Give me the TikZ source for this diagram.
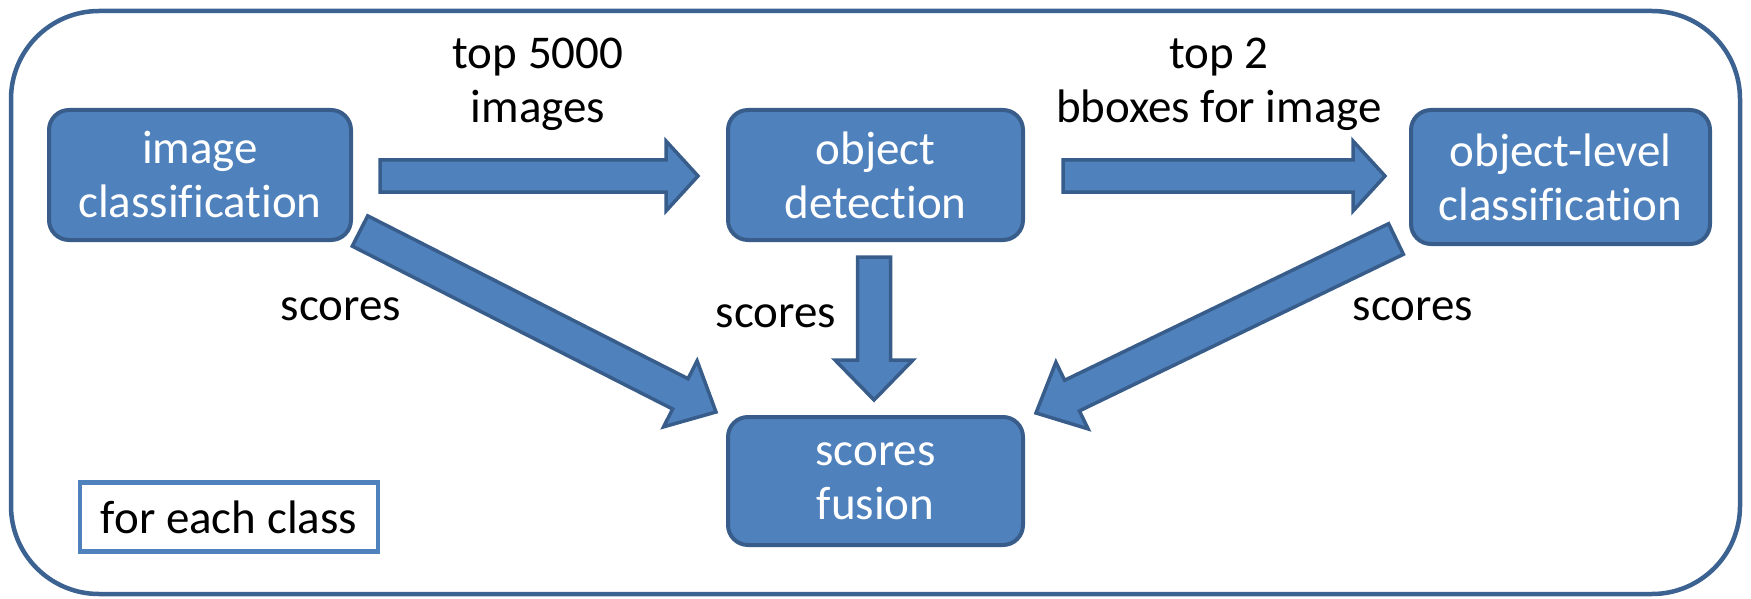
\documentclass[tikz,border=0pt]{standalone}
\usepackage{fontspec}
\setmainfont[Ligatures=NoCommon]{Carlito}
\usetikzlibrary{calc}
\definecolor{boxfill}{HTML}{4F81BD}
\definecolor{boxline}{HTML}{385D8A}
\definecolor{frameline}{HTML}{3C6292}
\newcommand\fatarrow[5]{% tail, tip, half shaft, half head, head length
  \coordinate (hb) at ($(#2)!#5!(#1)$);
  \draw[barrow] ($(#1)!#3!90:(#2)$) -- ($(hb)!#3!90:(#2)$) -- ($(hb)!#4!90:(#2)$) -- (#2)
    -- ($(hb)!#4!-90:(#2)$) -- ($(hb)!#3!-90:(#2)$) -- ($(#1)!#3!-90:(#2)$) -- cycle;
}
\begin{document}
\begin{tikzpicture}[x=1pt,y=-1pt,
  blk/.style={draw=boxline, line width=4pt, fill=boxfill, rounded corners=20pt, text=white,
    align=center, font=\fontsize{47}{54}\selectfont, inner sep=0pt},
  lbl/.style={align=center, font=\fontsize{47}{54}\selectfont, text=black, inner sep=0pt},
  barrow/.style={draw=boxline, line width=3.5pt, fill=boxfill, line join=miter}]
\useasboundingbox (0,0) rectangle (1751,599);
\draw[frameline, line width=4.5pt, rounded corners=88pt] (11,11) rectangle (1740,594);

\node[blk, minimum width=302pt, minimum height=130pt] (ic) at (200,175) {image\\classification};
\node[blk, minimum width=295pt, minimum height=130pt] (od) at (875.5,175) {object\\detection};
\node[blk, minimum width=299pt, minimum height=134pt] (ol) at (1560.5,177) {object-level\\classification};
\node[blk, minimum width=295pt, minimum height=128pt] (sf) at (875.5,481) {scores\\fusion};

\node[draw=boxfill, line width=4.5pt, minimum width=298pt, minimum height=69pt, inner sep=0pt,
  font=\fontsize{47}{54}\selectfont] (fe) at (229,517) {for each class};

\node[lbl] (t1) at (538,84) {top 5000\\images};
\node[lbl] (t2) at (1219,84) {top 2\\bboxes for image};
\node[lbl] (s1) at (341,309) {scores};
\node[lbl] (s2) at (776,316) {scores};
\node[lbl] (s3) at (1413,309) {scores};

\coordinate (a1t) at (380,176);  \coordinate (a1h) at (698,176);
\coordinate (a2t) at (1063,176); \coordinate (a2h) at (1385,176);
\coordinate (a3t) at (874,257);  \coordinate (a3h) at (874,400);
\coordinate (a4t) at (360,231);  \coordinate (a4h) at (716,412);
\coordinate (a5t) at (1396,239); \coordinate (a5h) at (1036,413);

\fatarrow{a1t}{a1h}{16pt}{35pt}{32pt}
\fatarrow{a2t}{a2h}{16pt}{35pt}{32pt}
\fatarrow{a3t}{a3h}{16.5pt}{39pt}{40pt}
\fatarrow{a4t}{a4h}{17pt}{37pt}{40pt}
\fatarrow{a5t}{a5h}{17pt}{37pt}{40pt}
\end{tikzpicture}
\end{document}
